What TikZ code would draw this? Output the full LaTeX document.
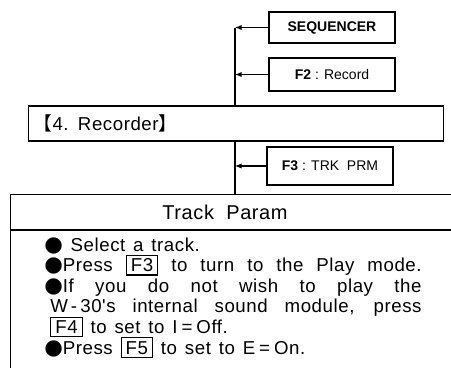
\documentclass[tikz,border=0pt]{standalone}
\usepackage{fontspec}
\setmainfont{Liberation Sans}
\newfontfamily\bodyfont[LetterSpace=3]{Liberation Sans}
\newfontfamily\cjkfont{Noto Sans CJK SC}
\newfontfamily\symfont{DejaVu Sans}
\usetikzlibrary{arrows.meta,positioning}
\newcommand{\keycap}[1]{{\setlength{\fboxsep}{2pt}\setlength{\fboxrule}{0.8pt}\fbox{\kern1pt#1\kern1pt}}}
\newcommand{\blt}{{\symfont\fontsize{16}{0}\selectfont\char"25CF}}
\newcommand{\fullpar}{{\parfillskip=0pt\par}}

\begin{document}
\begin{tikzpicture}[x=0.75pt,y=-0.75pt,
  menubox/.style={draw,thick,minimum width=94.5pt,font=\fontsize{10.5}{12}\selectfont},
  branch/.style={thick,-{Latex[length=5pt,width=4pt]}}]
  \useasboundingbox (0,0) rectangle (451,368);
  \clip (0,0) rectangle (451,368);
  % menu path
  \node[menubox,minimum height=23.25pt] (seq) at (332,27.5) {\bfseries SEQUENCER};
  \node[menubox,minimum height=24.75pt] (record) at (332,74.5) {\textbf{F2} : Record};
  \node[draw,thick,anchor=west,minimum height=26.25pt,text width=303pt,inner xsep=4pt,
    align=left,font=\bodyfont\fontsize{14}{16}\selectfont] (recorder) at (28,123.5)
    {{\cjkfont 【}4. Recorder{\cjkfont 】}};
  \node[menubox,minimum height=28.5pt] (trk) at (330,166) {\textbf{F3} : TRK\ \ PRM};
  % page box
  \node[draw,thick,anchor=north west,minimum width=352.5pt,minimum height=26.25pt] (hdr) at (10,194) {};
  \node[font=\bodyfont\fontsize{15}{17}\selectfont] (title) at (225,212) {Track\ \ Param};
  \node[draw,thick,anchor=north west,minimum width=352.5pt,minimum height=150pt] (body) at (hdr.south west) {};
  \coordinate (trunk) at (235,27.5);
  \draw[thick] (trunk) -- (trunk |- recorder.north);
  \draw[thick] (trunk |- recorder.south) -- (trunk |- hdr.north);
  \draw[branch] (seq.west) -- (seq.west -| trunk);
  \draw[branch] (record.west) -- (record.west -| trunk);
  \draw[branch] (trk.west) -- (trk.west -| trunk);
  % steps
  \node[anchor=base west,inner sep=0pt,text width=283pt,align=justify,
    font=\bodyfont\fontsize{14}{15.45}\selectfont] (steps) at (44,251)
    {\tolerance=10000 \hbadness=10000 \lineskiplimit=-10pt
     \spaceskip=0.42em plus 1em minus 0.05em \xspaceskip=\spaceskip
     \blt\ Select a track.\par
     \blt Press \keycap{F3} to turn to the Play mode.\fullpar
     \hangindent=4.5pt\hangafter=1
     \blt If you do not wish to play the\linebreak
     W\,-\,30's internal sound module, press\linebreak
     \keycap{F4} to set to I\kern3pt=\kern3pt Off.\par
     \blt Press \keycap{F5} to set to E\kern3pt=\kern3pt On.\par};
\end{tikzpicture}
\end{document}
